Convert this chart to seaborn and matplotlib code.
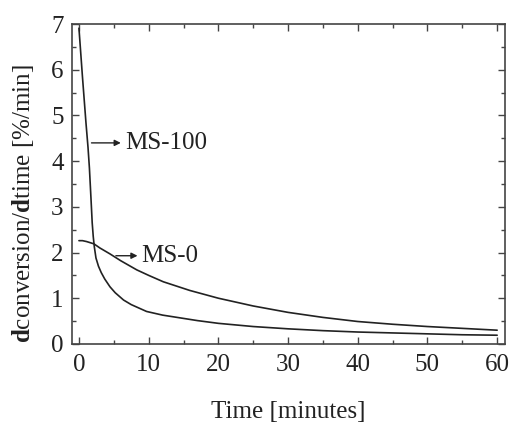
import numpy as np
import pandas as pd
import matplotlib
matplotlib.use("Agg")
import matplotlib.pyplot as plt
import seaborn as sns
from matplotlib.ticker import MultipleLocator

# Data
ms100_time = [0.0, 0.5, 1.0, 1.3, 1.5, 1.72, 1.9, 2.05, 2.2, 2.44, 2.8, 3.2, 3.7, 4.45, 5.2, 6.4, 7.5, 9.7, 12.0, 14.5, 17.0, 20.0, 25.0, 30.0, 35.0, 40.0, 45.0, 50.0, 55.0, 60.0]
ms100_rate = [6.91, 5.85, 4.85, 4.3, 3.85, 3.2, 2.65, 2.35, 2.13, 1.88, 1.7, 1.56, 1.42, 1.25, 1.12, 0.96, 0.86, 0.71, 0.63, 0.57, 0.51, 0.45, 0.38, 0.33, 0.29, 0.26, 0.24, 0.22, 0.2, 0.19]

ms0_time = [0.0, 0.5, 1.1, 2.15, 3.0, 4.45, 6.0, 8.3, 10.0, 12.1, 15.9, 20.0, 25.0, 30.0, 35.0, 40.0, 45.0, 50.0, 55.0, 60.0]
ms0_rate = [2.26, 2.26, 2.24, 2.19, 2.1, 1.97, 1.82, 1.62, 1.5, 1.36, 1.17, 1.0, 0.83, 0.69, 0.58, 0.49, 0.43, 0.38, 0.34, 0.3]

x_ticks = [0, 10, 20, 30, 40, 50, 60]
y_ticks = [0, 1, 2, 3, 4, 5, 6, 7]

df = pd.concat([
    pd.DataFrame({"time": ms100_time, "rate": ms100_rate, "series": "MS-100"}),
    pd.DataFrame({"time": ms0_time, "rate": ms0_rate, "series": "MS-0"}),
])

sns.set_theme(style="ticks")
plt.rcParams["font.family"] = ["Liberation Serif", "DejaVu Serif"]
plt.rcParams["mathtext.fontset"] = "custom"
plt.rcParams["mathtext.rm"] = "Liberation Serif"
plt.rcParams["mathtext.bf"] = "Liberation Serif:bold"

FS = 18
fig = plt.figure(figsize=(5.12, 4.23), dpi=100)
ax = fig.add_axes([0.1406, 0.187, 0.8454, 0.756])

sns.lineplot(data=df, x="time", y="rate", units="series", estimator=None,
             color="#222222", linewidth=1.2, sort=False, ax=ax, legend=False)

ax.set_xlim(-1, 61.1)
ax.set_ylim(0, 7)
ax.set_xticks(x_ticks)
ax.set_yticks(y_ticks)
ax.xaxis.set_minor_locator(MultipleLocator(5))
ax.yaxis.set_minor_locator(MultipleLocator(0.5))
ax.tick_params(which="both", direction="in", top=True, right=True,
               color="#444444", width=1.0)
ax.tick_params(which="major", length=5, labelsize=FS, labelcolor="#222222")
ax.tick_params(which="minor", length=3)
ax.tick_params(axis="x", which="major", pad=7)
ax.tick_params(axis="y", which="major", pad=6)
ax.tick_params(axis="x", which="both", top=True, labeltop=False)
ax.tick_params(axis="y", which="both", right=True, labelright=False)
for s in ax.spines.values():
    s.set_color("#444444")
    s.set_linewidth(1.2)

ax.set_xlabel("Time [minutes]", fontsize=FS, color="#222222", labelpad=18)
ax.set_ylabel(r"$\mathbf{d}$conversion/$\mathbf{d}$time [%/min]", fontsize=FS,
              color="#222222")
ax.yaxis.set_label_coords(-0.083, 0.44)

arrow = dict(arrowstyle="-|>", color="#222222", lw=1.0, mutation_scale=9)
ax.annotate("", xy=(6.4, 4.4), xytext=(1.4, 4.4), arrowprops=arrow)
ax.text(6.6, 4.4, "MS-100", fontsize=FS, va="center", ha="left", color="#222222")
ax.annotate("", xy=(8.8, 1.93), xytext=(4.9, 1.93), arrowprops=arrow)
ax.text(9.0, 1.93, "MS-0", fontsize=FS, va="center", ha="left", color="#222222")

fig.savefig("out.png", dpi=100)
